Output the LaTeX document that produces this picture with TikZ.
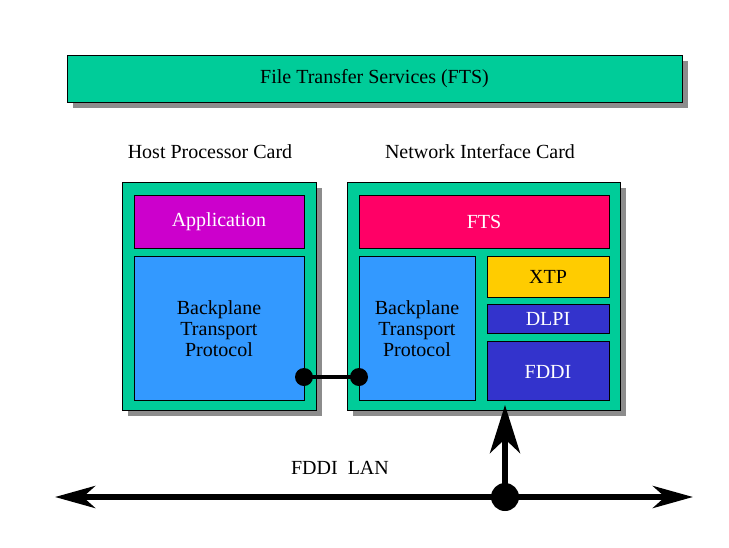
\documentclass[tikz,border=0pt]{standalone}
\usepackage{fontspec}
\setmainfont{Liberation Serif}
\usetikzlibrary{arrows.meta}
\definecolor{cardgreen}{RGB}{0,204,153}
\definecolor{appviolet}{RGB}{204,0,204}
\definecolor{btpblue}{RGB}{51,153,255}
\definecolor{ftsred}{RGB}{255,0,102}
\definecolor{xtpyellow}{RGB}{255,204,0}
\definecolor{fddiblue}{RGB}{51,51,204}
\tikzset{
  box/.style={draw=black, line width=0.8pt},
  shadowbox/.style={fill=gray!90},
  lbl/.style={font=\fontsize{20}{24}\selectfont, align=center},
  wlbl/.style={lbl, text=white},
  bus/.style={line width=6pt},
}
\begin{document}
\begin{tikzpicture}[x=1pt,y=-1pt]
  \useasboundingbox (0,0) rectangle (729,547);

  % shadows
  \fill[shadowbox] (73,61) rectangle (688,108);
  \fill[shadowbox] (128,188) rectangle (322,416);
  \fill[shadowbox] (353,188) rectangle (626,416);

  % top bar
  \draw[box, fill=cardgreen] (67,55) rectangle (682,102);
  \node[lbl] (fts) at (374.5,78.5) {File Transfer Services (FTS)};

  \node[lbl] (hostlbl) at (210,152) {Host Processor Card};
  \node[lbl] (niclbl) at (480,152) {Network Interface Card};

  % host card
  \draw[box, fill=cardgreen] (122,182) rectangle (316,410);
  \draw[box, fill=appviolet] (134,195) rectangle (304,248);
  \node[wlbl] (app) at (219,221.5) {Application};
  \draw[box, fill=btpblue] (134,256) rectangle (304,400);
  \node[lbl] (hbtp) at (219,329) {Backplane\\[-3pt]Transport\\[-3pt]Protocol};

  % network interface card
  \draw[box, fill=cardgreen] (347,182) rectangle (620,410);
  \draw[box, fill=ftsred] (359,195) rectangle (609,248);
  \node[wlbl] (nfts) at (484,221.5) {FTS};
  \draw[box, fill=btpblue] (359,256) rectangle (475,400);
  \node[lbl] (nbtp) at (417,329) {Backplane\\[-3pt]Transport\\[-3pt]Protocol};
  \draw[box, fill=xtpyellow] (487,256) rectangle (609,297);
  \node[lbl] (xtp) at (548,276.5) {XTP};
  \draw[box, fill=fddiblue] (487,304) rectangle (609,333);
  \node[wlbl] (dlpi) at (548,318.5) {DLPI};
  \draw[box, fill=fddiblue] (487,341) rectangle (609,400);
  \node[wlbl] (fddi) at (548,372) {FDDI};

  % backplane link
  \coordinate (hl) at (304,377);
  \coordinate (nl) at (359,377);
  \draw[line width=4pt] (hl) -- (nl);
  \fill (hl) circle (9);
  \fill (nl) circle (9);

  % LAN
  \coordinate (wl) at (55,497);
  \coordinate (el) at (693,497);
  \coordinate (tap) at (505,497);
  \coordinate (up) at (505,405);
  \draw[bus, -{Stealth[length=40pt,width=22pt,inset=12pt]}] (tap) -- (wl);
  \draw[bus, -{Stealth[length=40pt,width=22pt,inset=12pt]}] (tap) -- (el);
  \draw[bus, -{Stealth[length=48pt,width=30pt,inset=14pt]}] (tap) -- (up);
  \fill (tap) circle (14);
  \node[lbl] (lan) at (340,468) {FDDI\ \ LAN};
\end{tikzpicture}
\end{document}
